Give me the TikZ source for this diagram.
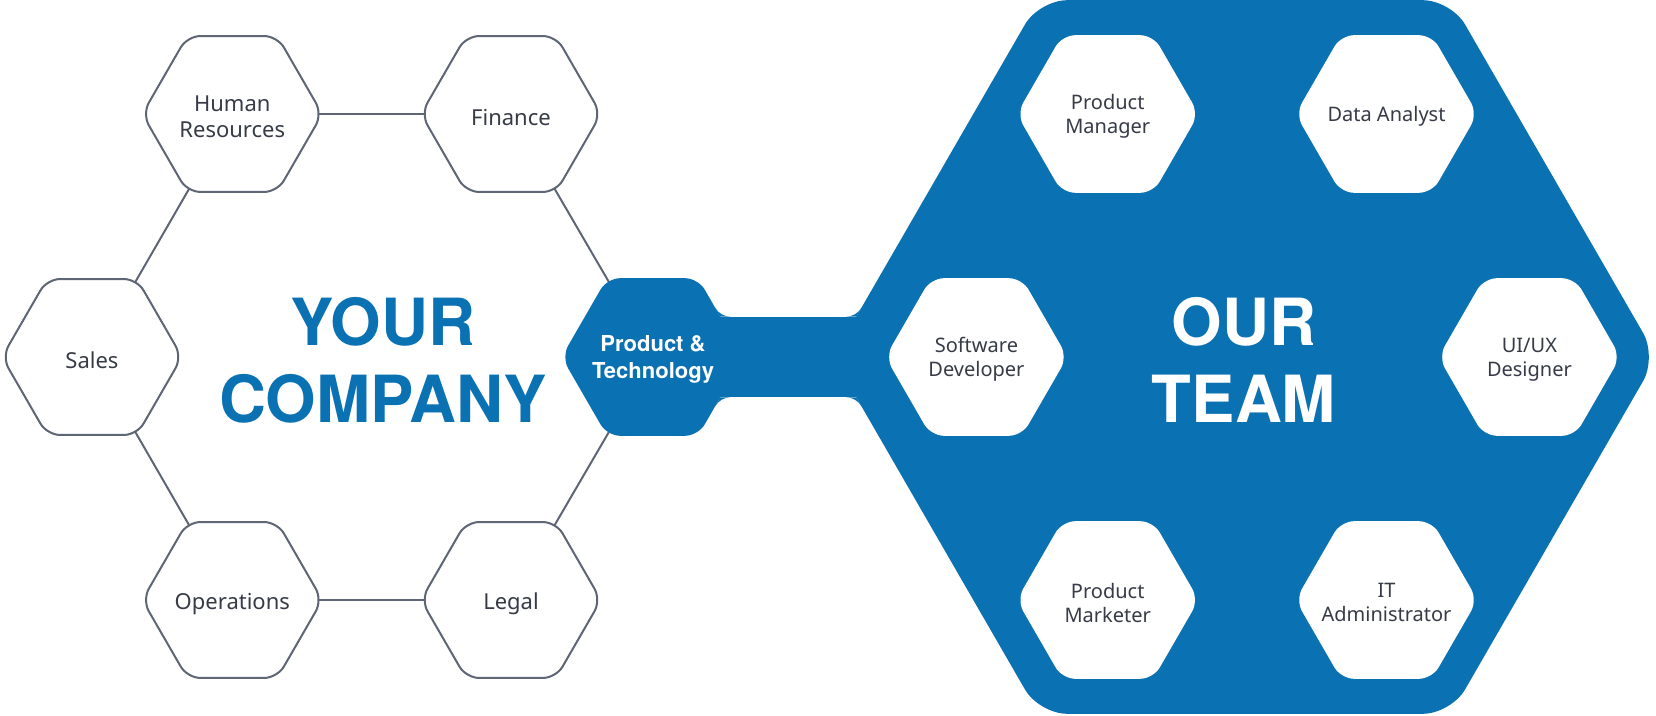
\documentclass[tikz,border=0pt]{standalone}
\usepackage{fontspec}
\setmainfont{Noto Sans}
\newfontfamily\headfont{TeX Gyre Heros}
\usetikzlibrary{calc}
\definecolor{brand}{HTML}{0A71B2}
\definecolor{edgegray}{HTML}{5E6675}
\definecolor{txtgray}{HTML}{363B47}
\newcommand\myhex[3]{\path[#1, shift={(#2)}] (0:#3) -- (60:#3) -- (120:#3) -- (180:#3) -- (240:#3) -- (300:#3) -- cycle;}
\begin{document}
\begin{tikzpicture}[x=1pt,y=1pt,
  link/.style={draw=edgegray, line width=2pt},
  lefthex/.style={fill=white, draw=edgegray, line width=2pt, rounded corners=13pt},
  innerhex/.style={fill=white, rounded corners=13pt},
  bigblue/.style={fill=brand, rounded corners=28pt},
  ptblue/.style={fill=brand, rounded corners=13pt},
  bluefill/.style={fill=brand},
  lbl/.style={align=center, text=txtgray, inner sep=0pt, font=\fontsize{22}{26}\selectfont},
  rlbl/.style={align=center, text=txtgray, inner sep=0pt, font=\fontsize{20}{24}\selectfont},
  ptlbl/.style={align=center, text=white, inner sep=0pt, font=\headfont\bfseries\fontsize{22}{27}\selectfont},
  title/.style={align=center, inner sep=0pt, font=\headfont\bfseries\fontsize{65}{77}\selectfont}]
\useasboundingbox (0,0) rectangle (1656,715);
% centres
\coordinate (hr) at (232.3,601);
\coordinate (fin) at (511,601);
\coordinate (sales) at (92,358);
\coordinate (ops) at (232.3,115);
\coordinate (legal) at (511,115);
\coordinate (pt) at (652.6,358);
\coordinate (team) at (1245,358);
\coordinate (pm) at (1107.7,601);
\coordinate (da) at (1386.5,601);
\coordinate (sd) at (976.4,358);
\coordinate (ui) at (1529.4,358);
\coordinate (pmk) at (1107.7,115);
\coordinate (it) at (1386.5,115);
% connectors of the left ring
\draw[link] (hr) -- (fin);
\draw[link] (hr) -- (sales);
\draw[link] (sales) -- (ops);
\draw[link] (ops) -- (legal);
\draw[link] (legal) -- (pt);
\draw[link] (fin) -- (pt);
% left hexagons
\myhex{lefthex}{hr}{90}
\myhex{lefthex}{fin}{90}
\myhex{lefthex}{sales}{90}
\myhex{lefthex}{ops}{90}
\myhex{lefthex}{legal}{90}
% blue shape
\myhex{bigblue}{team}{412}
\myhex{ptblue}{pt}{91}
\fill[bluefill] (700,317.7) rectangle (880,398.3);
\fill[bluefill] (720.3,398.3) -- (730.69,398.3) arc[start angle=270, end angle=210, radius=18pt] -- cycle;
\fill[bluefill] (856.3,398.3) -- (845.9,398.3) arc[start angle=270, end angle=330, radius=18pt] -- cycle;
\fill[bluefill] (720.3,317.7) -- (730.69,317.7) arc[start angle=90, end angle=150, radius=18pt] -- cycle;
\fill[bluefill] (856.3,317.7) -- (845.9,317.7) arc[start angle=90, end angle=30, radius=18pt] -- cycle;
% inner white hexagons
\myhex{innerhex}{pm}{91}
\myhex{innerhex}{da}{91}
\myhex{innerhex}{sd}{91}
\myhex{innerhex}{ui}{91}
\myhex{innerhex}{pmk}{91}
\myhex{innerhex}{it}{91}
% labels
\node[lbl, yshift=-2.5pt] (thr) at (hr) {Human\\Resources};
\node[lbl, yshift=-4pt] (tfin) at (fin) {Finance};
\node[lbl, yshift=-3pt] (tsales) at (sales) {Sales};
\node[lbl, yshift=-4pt] (tops) at (ops) {Operations};
\node[lbl, yshift=-4pt] (tlegal) at (legal) {Legal};
\node[ptlbl] (tpt) at (653,356) {Product \&\\Technology};
\node[title, text=brand] (tyour) at (383,355) {YOUR\\COMPANY};
\node[title, text=white] (tour) at (1244,355) {OUR\\TEAM};
\node[rlbl, yshift=-2.5pt] (tpm) at (pm) {Product\\Manager};
\node[rlbl, yshift=-2pt] (tda) at (da) {Data Analyst};
\node[rlbl, yshift=-2.5pt] (tsd) at (sd) {Software\\Developer};
\node[rlbl, yshift=-2.5pt] (tui) at (ui) {UI/UX\\Designer};
\node[rlbl, yshift=-2.5pt] (tpmk) at (pmk) {Product\\Marketer};
\node[rlbl, yshift=-2.5pt] (tit) at (it) {IT\\Administrator};
\end{tikzpicture}
\end{document}
